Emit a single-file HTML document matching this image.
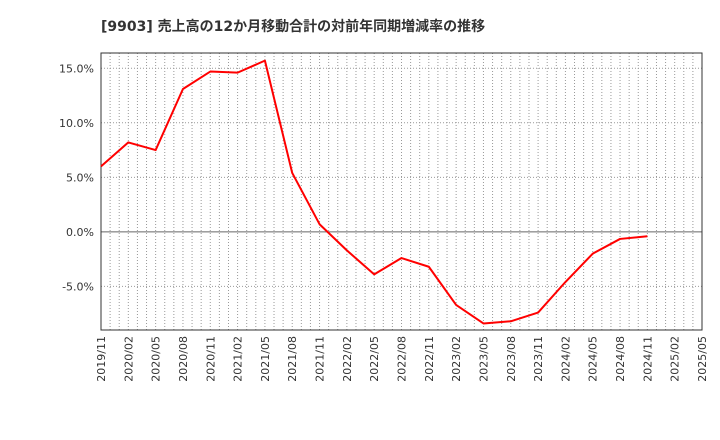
<!DOCTYPE html>
<html><head><meta charset="utf-8"><style>
body{margin:0;background:#fff;}
svg{display:block;font-family:"DejaVu Sans","Noto Sans CJK JP",sans-serif;}
</style></head><body>
<svg id="c" width="720" height="440">
<text x="101" y="31" font-size="14" font-weight="bold" fill="#333">[9903]  売上高の12か月移動合計の対前年同期増減率の推移</text>
<g id="grid"></g><g id="axes"></g><g id="series"></g>
</svg>
<script>
const categories=["2019/11","2020/02","2020/05","2020/08","2020/11","2021/02","2021/05","2021/08","2021/11","2022/02","2022/05","2022/08","2022/11","2023/02","2023/05","2023/08","2023/11","2024/02","2024/05","2024/08","2024/11","2025/02","2025/05"];
const values=[6.0,8.2,7.5,13.1,14.7,14.6,15.7,5.4,0.7,-1.7,-3.9,-2.4,-3.2,-6.7,-8.4,-8.2,-7.4,-4.6,-2.0,-0.65,-0.4];
const yTicks=[-5,0,5,10,15];
const L=101,R=702,T=53,B=330,yMin=-9.0,yMax=16.4;
const nQ=categories.length-1;
const x=i=>L+(R-L)*i/nQ;
const y=v=>B-(B-T)*(v-yMin)/(yMax-yMin);
const NS="http://www.w3.org/2000/svg";
function mk(tag,attrs,parent){const e=document.createElementNS(NS,tag);for(const k in attrs)e.setAttribute(k,attrs[k]);parent.appendChild(e);return e;}
const grid=document.getElementById('grid'),axes=document.getElementById('axes'),series=document.getElementById('series');
for(let m=1;m<nQ*3;m++){const xx=L+(R-L)*m/(nQ*3);
const ln=mk('line',{x1:xx,x2:xx,y1:T,y2:B,stroke:'#999','stroke-dasharray':'1,2','stroke-width':1},grid);

}
yTicks.forEach(v=>{const yy=y(v);
const ln=mk('line',{x1:L,x2:R,y1:yy,y2:yy,stroke:v===0?'#666':'#999','stroke-dasharray':v===0?'none':'1,2','stroke-width':1},grid);


const t=mk('text',{x:L-7,y:yy+4,'text-anchor':'end','font-size':11,fill:'#333'},axes);
t.textContent=v.toFixed(1)+'%';

});
const fr=mk('rect',{x:L,y:T,width:R-L,height:B-T,fill:'none',stroke:'#333','stroke-width':1},axes);


categories.forEach((c,i)=>{const xx=x(i);
const t=mk('text',{x:0,y:0,'text-anchor':'end','font-size':11,fill:'#333',transform:`translate(${xx+4},${B+6}) rotate(-90)`},axes);
t.textContent=c;

});
const pl=mk('polyline',{points:values.map((v,i)=>x(i)+','+y(v)).join(' '),fill:'none',stroke:'#f00','stroke-width':2,'stroke-linejoin':'round'},series);


</script>
</body></html>
